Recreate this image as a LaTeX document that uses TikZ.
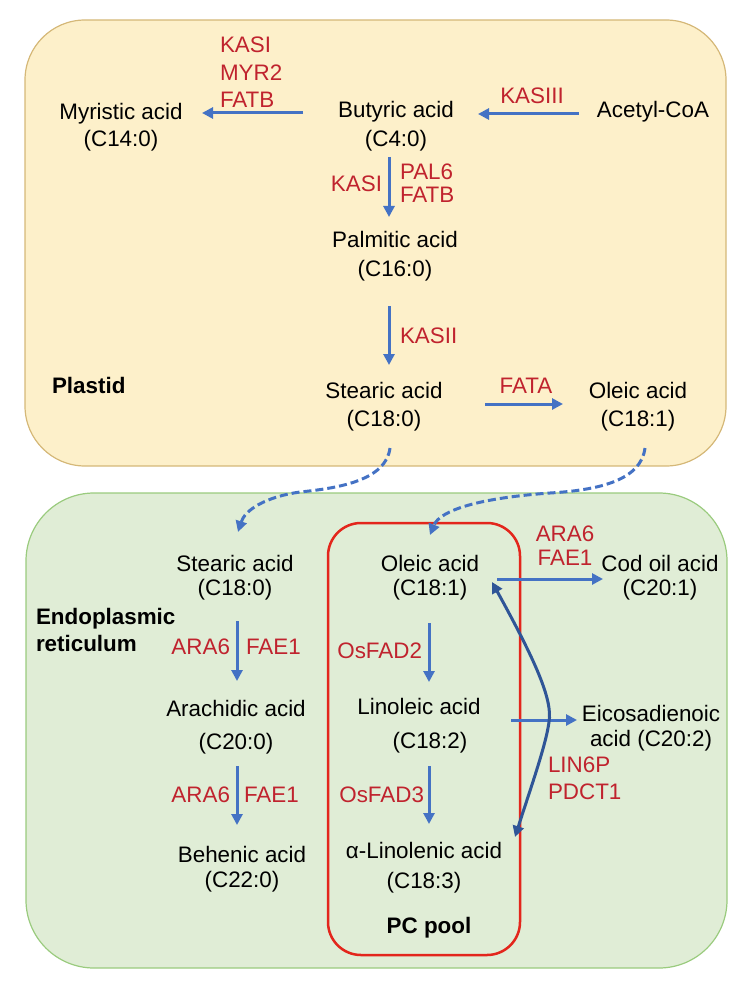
\documentclass[tikz,border=0pt]{standalone}
\usepackage{fontspec}
\setmainfont{Liberation Sans}
\usetikzlibrary{arrows.meta}
\definecolor{plfill}{HTML}{FDF0CA}
\definecolor{pldraw}{HTML}{D5B878}
\definecolor{erfill}{HTML}{E0EDD6}
\definecolor{erdraw}{HTML}{9ACB7E}
\definecolor{enz}{HTML}{C0232E}
\definecolor{arr}{HTML}{4472C4}
\definecolor{darr}{HTML}{2F5597}
\definecolor{pcred}{HTML}{E3261C}
\begin{document}
\begin{tikzpicture}[x=1pt,y=-1pt,
  every node/.style={inner sep=0pt, outer sep=0pt},
  cmp/.style={font=\fontsize{22.4}{28}\selectfont, align=center, text=black},
  enzl/.style={font=\fontsize{22.4}{27}\selectfont, text=enz},
  region/.style={font=\fontsize{22.4}{27}\selectfont\bfseries, text=black, align=left},
  flow/.style={draw=arr, line width=3pt, -{Triangle[length=11pt,width=11pt]}},
  transfer/.style={draw=arr, line width=3pt, dash pattern=on 8pt off 4pt, -{Triangle[length=11pt,width=11pt]}},
  cycle/.style={draw=darr, line width=3pt, {Triangle[length=11pt,width=11pt]}-{Triangle[length=11pt,width=11pt]}}
]
\useasboundingbox (0,0) rectangle (755,992);

% compartments
\node[draw=pldraw, fill=plfill, line width=1.2pt, rounded corners=60pt,
      minimum width=701pt, minimum height=446pt] (plastid) at (375.5,243) {};
\node[draw=erdraw, fill=erfill, line width=1.2pt, rounded corners=68pt,
      minimum width=701pt, minimum height=475pt] (er) at (376.5,730.5) {};
\node[draw=pcred, line width=2.5pt, rounded corners=33pt,
      minimum width=192pt, minimum height=432pt] (pc) at (424,739) {};

% region labels
\node[region, anchor=base west] (plastidlbl) at (52,393) {Plastid};
\node[region, anchor=west] (erlbl) at (36,630.3) {Endoplasmic\\reticulum};
\node[region, anchor=base] (pclbl) at (429,933) {PC pool};

% plastid compounds
\node[cmp] (myr) at (121,127.65) {Myristic acid\\[-1pt](C14:0)};
\node[cmp] (but) at (396,126.65) {Butyric acid\\[1pt](C4:0)};
\node[cmp, anchor=base] (acc) at (653,118) {Acetyl-CoA};
\node[cmp] (pal) at (395,256.65) {Palmitic acid\\[1pt](C16:0)};
\node[cmp] (stp) at (384,407.15) {Stearic acid\\(C18:0)};
\node[cmp] (olp) at (638,407.15) {Oleic acid\\(C18:1)};

% ER compounds
\node[cmp] (ste) at (235,578.15) {Stearic acid\\[-4pt](C18:0)};
\node[cmp] (ole) at (430,578.15) {Oleic acid\\[-4pt](C18:1)};
\node[cmp] (cod) at (660,578.15) {Cod oil acid\\[-4pt](C20:1)};
\node[cmp] (ara) at (236,727.65) {Arachidic acid\\[5pt](C20:0)};
\node[cmp] (lin) at (419,726.15) {Linoleic acid\\[6pt]\hspace*{22pt}(C18:2)};
\node[cmp] (eic) at (651,728.65) {Eicosadienoic\\[-3pt]acid (C20:2)};
\node[cmp] (beh) at (242,869.65) {Behenic acid\\[-3pt](C22:0)};
\node[cmp] (aln) at (424,868.15) {α-Linolenic acid\\[2pt](C18:3)};

% enzyme labels
\node[enzl, align=left, anchor=west, font=\fontsize{22.4}{27.5}\selectfont] (e1) at (220,72.5) {KASI\\MYR2\\FATB};
\node[enzl, anchor=base] (e2) at (532,104) {KASIII};
\node[enzl, anchor=base east] (e3) at (382,192) {KASI};
\node[enzl, align=left, anchor=west] (e4) at (400,183.5) {PAL6\\[-4pt]FATB};
\node[enzl, anchor=base west] (e5) at (400,343) {KASII};
\node[enzl, anchor=base] (e6) at (526,393) {FATA};
\node[enzl, anchor=base east] (e7) at (230,654) {ARA6};
\node[enzl, anchor=base west] (e8) at (246,654) {FAE1};
\node[enzl, anchor=base east] (e9) at (230,802) {ARA6};
\node[enzl, anchor=base west] (e10) at (244,802) {FAE1};
\node[enzl, anchor=base east] (e11) at (422,658) {OsFAD2};
\node[enzl, anchor=base east] (e12) at (424,802) {OsFAD3};
\node[enzl, align=center, anchor=center] (e13) at (565,546) {ARA6\\[-3pt]FAE1};
\node[enzl, align=left, anchor=west] (e14) at (548,778.5) {LIN6P\\PDCT1};

% connector end points
\coordinate (a1s) at (303,113); \coordinate (a1e) at (202,113);
\coordinate (a2s) at (579,114); \coordinate (a2e) at (478,114);
\coordinate (a3s) at (389,157); \coordinate (a3e) at (389,217);
\coordinate (a4s) at (389,306); \coordinate (a4e) at (389,365);
\coordinate (a5s) at (485,404); \coordinate (a5e) at (563,404);
\coordinate (d1s) at (390,448); \coordinate (d1m) at (300,492); \coordinate (d1e) at (238,532);
\coordinate (d2s) at (645,448); \coordinate (d2m) at (550,493); \coordinate (d2e) at (430,535);
\coordinate (b1s) at (237,621); \coordinate (b1e) at (237,681);
\coordinate (b2s) at (237,766); \coordinate (b2e) at (237,825);
\coordinate (b3s) at (429,623); \coordinate (b3e) at (429,682);
\coordinate (b4s) at (429,766); \coordinate (b4e) at (429,824);
\coordinate (b5s) at (497,579); \coordinate (b5e) at (603,579);
\coordinate (b6s) at (511,720); \coordinate (b6e) at (577,720);
\coordinate (c1s) at (492,582); \coordinate (c1m) at (549,722); \coordinate (c1e) at (515,837);

% connectors
\draw[flow] (a1s) -- (a1e);
\draw[flow] (a2s) -- (a2e);
\draw[flow] (a3s) -- (a3e);
\draw[flow] (a4s) -- (a4e);
\draw[flow] (a5s) -- (a5e);
\draw[transfer] (d1s) .. controls (386,480) and (340,488) .. (d1m) .. controls (265,497) and (245,510) .. (d1e);
\draw[transfer] (d2s) .. controls (641,480) and (600,490) .. (d2m) .. controls (480,498) and (440,510) .. (d2e);
\draw[flow] (b1s) -- (b1e);
\draw[flow] (b2s) -- (b2e);
\draw[flow] (b3s) -- (b3e);
\draw[flow] (b4s) -- (b4e);
\draw[flow] (b5s) -- (b5e);
\draw[flow] (b6s) -- (b6e);
\draw[cycle] (c1s) .. controls (535,660) and (553,700) .. (c1m) .. controls (546,745) and (530,790) .. (c1e);
\end{tikzpicture}
\end{document}
